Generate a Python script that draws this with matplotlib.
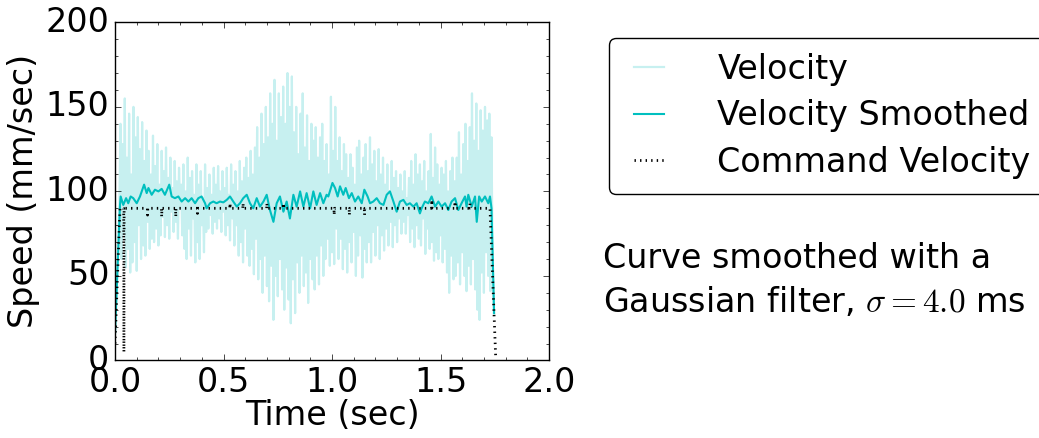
import matplotlib
matplotlib.use("Agg")
import matplotlib.pyplot as plt
import numpy as np
from matplotlib.ticker import AutoMinorLocator, MultipleLocator

plt.style.use("classic")

# noisy velocity, sampled every 5 ms from t = 0
velocity = [
    16, 35, 55, 72, 90,
    140, 60, 128, 75, 155, 55, 120, 66, 146, 52,
    110, 58, 150, 70, 132, 53, 144, 80, 125, 60,
    141, 68, 118, 62, 136, 82, 124, 66, 110, 72,
    133, 70, 115, 78, 128, 68, 104, 74, 124, 85,
    112, 73, 126, 80, 108, 72, 120, 88, 102, 76,
    118, 82, 106, 72, 114, 90, 104, 74, 116, 66,
    100, 60, 120, 78, 108, 62, 112, 84, 98, 58,
    116, 70, 104, 60, 112, 80, 96, 64, 116, 76,
    102, 78, 110, 86, 98, 75, 114, 82, 104, 78,
    115, 84, 100, 76, 112, 88, 102, 74, 114, 80,
    98, 71, 116, 84, 104, 68, 112, 80, 100, 62,
    118, 70, 106, 58, 114, 78, 120, 62, 108, 56,
    124, 66, 110, 51, 126, 72, 138, 48, 120, 60,
    146, 40, 128, 62, 150, 44, 132, 35, 158, 56,
    140, 24, 166, 50, 130, 38, 158, 60, 144, 42,
    162, 30, 140, 55, 170, 36, 150, 22, 168, 48,
    135, 28, 150, 58, 122, 40, 146, 62, 158, 44,
    126, 52, 145, 34, 118, 60, 140, 48, 130, 42,
    138, 62, 120, 45, 132, 68, 140, 50, 118, 60,
    128, 72, 110, 56, 156, 64, 124, 57, 150, 78,
    118, 60, 132, 72, 112, 54, 128, 66, 122, 52,
    108, 70, 122, 58, 114, 76, 104, 50, 126, 62,
    130, 74, 110, 49, 120, 66, 128, 58, 112, 70,
    132, 58, 116, 76, 124, 62, 106, 80, 125, 60,
    110, 74, 120, 65, 104, 78, 116, 68, 100, 82,
    118, 67, 108, 80, 112, 70, 102, 84, 110, 75,
    100, 82, 112, 75, 96, 86, 108, 70, 118, 78,
    104, 67, 122, 80, 110, 72, 116, 68, 106, 84,
    118, 63, 100, 78, 112, 66, 134, 70, 108, 59,
    126, 64, 116, 60, 104, 74, 114, 58, 110, 66,
    118, 52, 100, 40, 112, 62, 120, 48, 106, 50,
    120, 58, 135, 45, 110, 64, 128, 50, 140, 41,
    118, 56, 138, 45, 158, 60, 130, 42, 152, 30,
    124, 24, 148, 52, 136, 40, 150, 64, 142, 50,
    146, 41, 132, 60, 28,
]
velocity_dt = 0.005

smooth_t = [
    0.0, 0.023, 0.026, 0.038, 0.051, 0.061, 0.072, 0.084, 0.100, 0.115,
    0.134, 0.146, 0.154, 0.169, 0.184, 0.200, 0.215, 0.230, 0.250, 0.261,
    0.276, 0.292, 0.307, 0.323, 0.338, 0.353, 0.369, 0.384, 0.399, 0.415,
    0.422, 0.438, 0.453, 0.468, 0.484, 0.499, 0.515, 0.530, 0.545, 0.561,
    0.576, 0.591, 0.607, 0.622, 0.637, 0.653, 0.668, 0.684, 0.699, 0.714,
    0.730, 0.745, 0.760, 0.776, 0.791, 0.806, 0.822, 0.837, 0.853, 0.868,
    0.883, 0.899, 0.914, 0.929, 0.945, 0.960, 0.975, 0.983, 1.002, 1.014,
    1.026, 1.037, 1.052, 1.063, 1.078, 1.091, 1.106, 1.121, 1.137, 1.149,
    1.164, 1.175, 1.190, 1.206, 1.221, 1.237, 1.252, 1.267, 1.283, 1.298,
    1.313, 1.329, 1.344, 1.359, 1.375, 1.390, 1.405, 1.413, 1.428, 1.444,
    1.459, 1.475, 1.490, 1.505, 1.521, 1.536, 1.551, 1.567, 1.582, 1.597,
    1.613, 1.620, 1.628, 1.644, 1.659, 1.667, 1.678, 1.690, 1.705, 1.720,
    1.728, 1.735, 1.747,
]
smooth_v = [
    16, 92, 97, 92, 96, 93, 97, 96, 93, 97,
    104, 99, 102, 98, 101, 100, 101.5, 98, 104, 97,
    96, 97, 94, 96, 94, 96, 93, 96, 97, 93,
    90, 93, 94, 93, 94, 93.5, 95, 97, 94, 91,
    93, 96, 98, 93, 90, 96, 91, 94, 98, 89,
    82, 93, 97, 88, 94, 84, 98, 91, 100, 91,
    99, 90, 100, 92, 99, 93, 98, 97, 105, 102,
    97, 103, 98, 102, 96, 99, 94, 97, 93, 101,
    97, 93, 94, 96, 93, 92, 98, 100, 94, 88,
    94, 95, 92, 93, 91, 93, 87, 90, 94, 93,
    97, 91, 94, 91, 93, 89, 94, 96, 89, 93,
    97, 91, 98, 91, 97, 82, 97, 94, 97, 93,
    97, 90, 28,
]

command_t = [
    0.0, 0.023, 0.040, 0.041, 0.042, 0.149, 0.150, 0.151, 0.214, 0.215,
    0.216, 0.279, 0.280, 0.281, 0.379, 0.380, 0.381, 0.529, 0.530, 0.531,
    0.589, 0.590, 0.591, 0.699, 0.700, 0.701, 0.775, 0.776, 0.777, 1.009,
    1.010, 1.011, 1.079, 1.080, 1.081, 1.149, 1.150, 1.151, 1.459, 1.460,
    1.461, 1.566, 1.567, 1.568, 1.635, 1.636, 1.637, 1.728, 1.754,
]
command_v = [
    10, 90, 90, 5, 90, 90, 86, 90, 90, 85,
    90, 90, 85, 90, 90, 87, 90, 90, 93, 90,
    90, 93, 90, 90, 93, 90, 90, 93, 90, 90,
    86, 90, 90, 86, 90, 90, 86, 90, 90, 95,
    90, 90, 94, 90, 90, 93, 90, 90, 3,
]

fig = plt.figure(figsize=(10.39, 4.38), dpi=100, facecolor="white")
ax = fig.add_axes([0.1107, 0.177, 0.4177, 0.772])

vel_t = np.arange(len(velocity)) * velocity_dt
ax.plot(vel_t, velocity, color="c", alpha=0.22, lw=1.6, label="Velocity")
ax.plot(smooth_t, smooth_v, color="c", lw=1.5, label="Velocity Smoothed")
ax.plot(command_t, command_v, "k:", lw=2.0, label="Command Velocity")

ax.set_xlim(0, 2.0)
ax.set_ylim(0, 200)
ax.xaxis.set_major_locator(MultipleLocator(0.5))
ax.yaxis.set_major_locator(MultipleLocator(50))
ax.xaxis.set_minor_locator(AutoMinorLocator(5))
ax.yaxis.set_minor_locator(AutoMinorLocator(5))
ax.tick_params(labelsize=24)
ax.set_xlabel("Time (sec)", fontsize=24, labelpad=0)
ax.set_ylabel("Speed (mm/sec)", fontsize=24, labelpad=4)

fig.legend(loc="upper left", bbox_to_anchor=(609 / 1039, 1 - 38 / 438),
           fontsize=24, fancybox=True, handlelength=1.5, handletextpad=1.3,
           labelspacing=0.4, borderpad=0.45, borderaxespad=0)

fig.text(603 / 1039, 1 - 258 / 438, "Curve smoothed with a", fontsize=24, va="center")
fig.text(603 / 1039, 1 - 302 / 438, r"Gaussian filter, $\sigma = 4.0$ ms", fontsize=24, va="center")

fig.savefig("out.png", dpi=100, facecolor="white")
